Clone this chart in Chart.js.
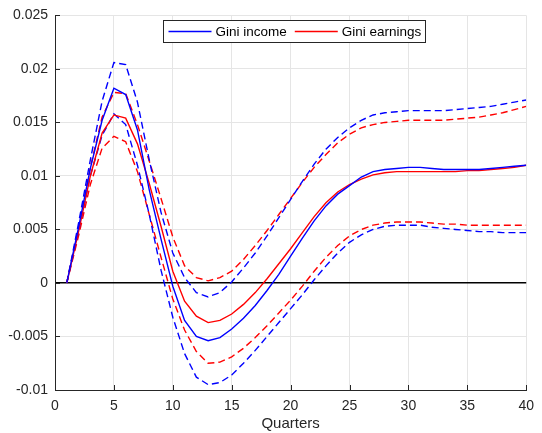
<!DOCTYPE html>
<html>
<head>
<meta charset="utf-8">
<script src="https://cdn.jsdelivr.net/npm/chart.js@4.4.1/dist/chart.umd.min.js"></script>
<style>
  html, body { margin: 0; padding: 0; background: #fff; }
  canvas { display: block; }
</style>
</head>
<body>
<canvas id="chart" width="542" height="433"></canvas>
<script>
// Impulse responses of the Gini coefficients, quarters 1..40

const quarters = [1, 2, 3, 4, 5, 6, 7, 8, 9, 10, 11, 12, 13, 14, 15, 16, 17, 18, 19, 20,
                  21, 22, 23, 24, 25, 26, 27, 28, 29, 30, 31, 32, 33, 34, 35, 36, 37, 38, 39, 40];

const giniIncome = [0, 0.0052, 0.0107, 0.0152, 0.0182, 0.0176, 0.0143, 0.0087, 0.0041, -0.0003,
  -0.0035, -0.0050, -0.0054, -0.0051, -0.0043, -0.0033, -0.0021, -0.0007, 0.0008, 0.0025,
  0.0042, 0.0058, 0.0072, 0.0083, 0.0091, 0.0099, 0.0104, 0.0106, 0.0107, 0.0108,
  0.0108, 0.0107, 0.0106, 0.0106, 0.0106, 0.0106, 0.0107, 0.0108, 0.0109, 0.0110];

const giniIncomeUpper = [0, 0.0056, 0.0115, 0.0170, 0.0206, 0.0204, 0.0169, 0.0115, 0.0066, 0.0028,
  0.0005, -0.0009, -0.0013, -0.0009, 0.0001, 0.0014, 0.0028, 0.0044, 0.0061, 0.0078,
  0.0095, 0.0111, 0.0125, 0.0136, 0.0145, 0.0152, 0.0157, 0.0159, 0.0160, 0.0161,
  0.0161, 0.0161, 0.0161, 0.0162, 0.0163, 0.0164, 0.0165, 0.0167, 0.0169, 0.0171];

const giniIncomeLower = [0, 0.0048, 0.0100, 0.0138, 0.0158, 0.0148, 0.0110, 0.0064, 0.0012, -0.0032,
  -0.0066, -0.0088, -0.0095, -0.0093, -0.0086, -0.0075, -0.0063, -0.0050, -0.0037, -0.0024,
  -0.0011, 0.0003, 0.0016, 0.0028, 0.0038, 0.0045, 0.0050, 0.0053, 0.0054, 0.0054,
  0.0054, 0.0052, 0.0051, 0.0050, 0.0049, 0.0048, 0.0048, 0.0047, 0.0047, 0.0047];

const giniEarnings = [0, 0.0048, 0.0100, 0.0140, 0.0157, 0.0154, 0.0130, 0.0093, 0.0053, 0.0011,
  -0.0017, -0.0031, -0.0037, -0.0035, -0.0029, -0.0020, -0.0009, 0.0004, 0.0018, 0.0032,
  0.0047, 0.0062, 0.0075, 0.0085, 0.0092, 0.0097, 0.0101, 0.0103, 0.0104, 0.0104,
  0.0104, 0.0104, 0.0104, 0.0104, 0.0105, 0.0105, 0.0106, 0.0107, 0.0108, 0.0110];

const giniEarningsUpper = [0, 0.0052, 0.0108, 0.0155, 0.0178, 0.0177, 0.0148, 0.0114, 0.0079, 0.0043,
  0.0016, 0.0005, 0.0002, 0.0005, 0.0011, 0.0022, 0.0035, 0.0049, 0.0064, 0.0079,
  0.0094, 0.0108, 0.0120, 0.0131, 0.0139, 0.0145, 0.0148, 0.0150, 0.0151, 0.0152,
  0.0152, 0.0152, 0.0152, 0.0153, 0.0154, 0.0155, 0.0157, 0.0159, 0.0162, 0.0165];

const giniEarningsLower = [0, 0.0044, 0.0092, 0.0126, 0.0137, 0.0132, 0.0104, 0.0064, 0.0024, -0.0015,
  -0.0044, -0.0064, -0.0075, -0.0074, -0.0069, -0.0061, -0.0051, -0.0040, -0.0028, -0.0016,
  -0.0003, 0.0011, 0.0024, 0.0035, 0.0044, 0.0050, 0.0054, 0.0056, 0.0057, 0.0057,
  0.0057, 0.0056, 0.0055, 0.0055, 0.0054, 0.0054, 0.0054, 0.0054, 0.0054, 0.0054];

const xTicks = [0, 5, 10, 15, 20, 25, 30, 35, 40];
const yTicks = [-0.01, -0.005, 0, 0.005, 0.01, 0.015, 0.02, 0.025];
const yTickLabels = ["-0.01", "-0.005", "0", "0.005", "0.01", "0.015", "0.02", "0.025"];

const BLUE = "#0000ff", RED = "#ff0000";
const AXIS = "#262626", GRID = "#e5e5e5";
const FONT = "'Liberation Sans', Arial, Helvetica, sans-serif";

function pts(ys) {
  return quarters.map((q, i) => ({ x: q, y: ys[i] }));
}

function line(label, ys, color, dashed) {
  return {
    label: label,
    data: pts(ys),
    borderColor: color,
    backgroundColor: color,
    borderWidth: 1.4,
    borderDash: dashed ? [7, 4] : [],
    pointRadius: 0,
    tension: 0,
    fill: false,
  };
}

// legend drawn inside the axes, MATLAB style
const insideLegend = {
  id: "insideLegend",
  afterDraw(chart) {
    const ctx = chart.ctx;
    const items = chart.data.datasets.filter(d => d.label);
    const x0 = 163.5, y0 = 20.5, w = 262, h = 22;
    ctx.save();
    ctx.fillStyle = "#fff";
    ctx.fillRect(x0, y0, w, h);
    ctx.strokeStyle = AXIS;
    ctx.lineWidth = 1;
    ctx.strokeRect(x0, y0, w, h);
    ctx.font = "13.5px " + FONT;
    ctx.textBaseline = "middle";
    ctx.fillStyle = "#000";
    let x = x0 + 5;
    const cy = y0 + h / 2;
    items.forEach(d => {
      ctx.strokeStyle = d.borderColor;
      ctx.lineWidth = 1.4;
      ctx.beginPath();
      ctx.moveTo(x, cy);
      ctx.lineTo(x + 43, cy);
      ctx.stroke();
      ctx.fillText(d.label, x + 47, cy + 1);
      x += 47 + ctx.measureText(d.label).width + 8;
    });
    ctx.restore();
  }
};

// small inward tick marks on the left and bottom axes
const innerTicks = {
  id: "innerTicks",
  afterDatasetsDraw(chart) {
    const ctx = chart.ctx, a = chart.chartArea;
    const xs = chart.scales.x, ys = chart.scales.y;
    ctx.save();
    ctx.strokeStyle = AXIS;
    ctx.lineWidth = 1;
    ctx.beginPath();
    xTicks.forEach(v => {
      const px = Math.round(xs.getPixelForValue(v)) + 0.5;
      ctx.moveTo(px, a.bottom);
      ctx.lineTo(px, a.bottom - 5);
    });
    yTicks.forEach(v => {
      const py = Math.round(ys.getPixelForValue(v)) + 0.5;
      ctx.moveTo(a.left, py);
      ctx.lineTo(a.left + 5, py);
    });
    ctx.stroke();
    ctx.restore();
  }
};

new Chart(document.getElementById("chart"), {
  type: "line",
  data: {
    datasets: [
      line("Gini income", giniIncome, BLUE, false),
      line("Gini earnings", giniEarnings, RED, false),
      line("", giniIncomeUpper, BLUE, true),
      line("", giniIncomeLower, BLUE, true),
      line("", giniEarningsUpper, RED, true),
      line("", giniEarningsLower, RED, true),
    ]
  },
  options: {
    responsive: false,
    animation: false,
    layout: { padding: { top: 13, right: 9, left: 0, bottom: 0 } },
    plugins: { legend: { display: false }, tooltip: { enabled: false } },
    scales: {
      x: {
        type: "linear",
        min: 0,
        max: 40,
        afterBuildTicks: s => { s.ticks = xTicks.map(v => ({ value: v })); },
        afterFit: s => { s.height = 43; },
        ticks: { color: AXIS, font: { family: FONT, size: 14 }, padding: 8, maxRotation: 0 },
        grid: { color: GRID, lineWidth: 1, drawTicks: false },
        border: { color: AXIS, width: 1 },
        title: { display: true, text: "Quarters", color: AXIS, font: { family: FONT, size: 15 }, padding: { top: 2, bottom: 0 } }
      },
      y: {
        min: -0.01,
        max: 0.025,
        afterBuildTicks: s => { s.ticks = yTicks.map(v => ({ value: v })); },
        afterFit: s => { s.width = 55; },
        ticks: {
          color: AXIS,
          font: { family: FONT, size: 14 },
          padding: 7,
          callback: v => yTickLabels[yTicks.findIndex(t => Math.abs(t - v) < 1e-9)]
        },
        grid: {
          color: c => (c.tick && Math.abs(c.tick.value) < 1e-12) ? "#000" : GRID,
          lineWidth: c => (c.tick && Math.abs(c.tick.value) < 1e-12) ? 1.5 : 1,
          drawTicks: false
        },
        border: { color: AXIS, width: 1 }
      }
    }
  },
  plugins: [insideLegend, innerTicks]
});
</script>
</body>
</html>
